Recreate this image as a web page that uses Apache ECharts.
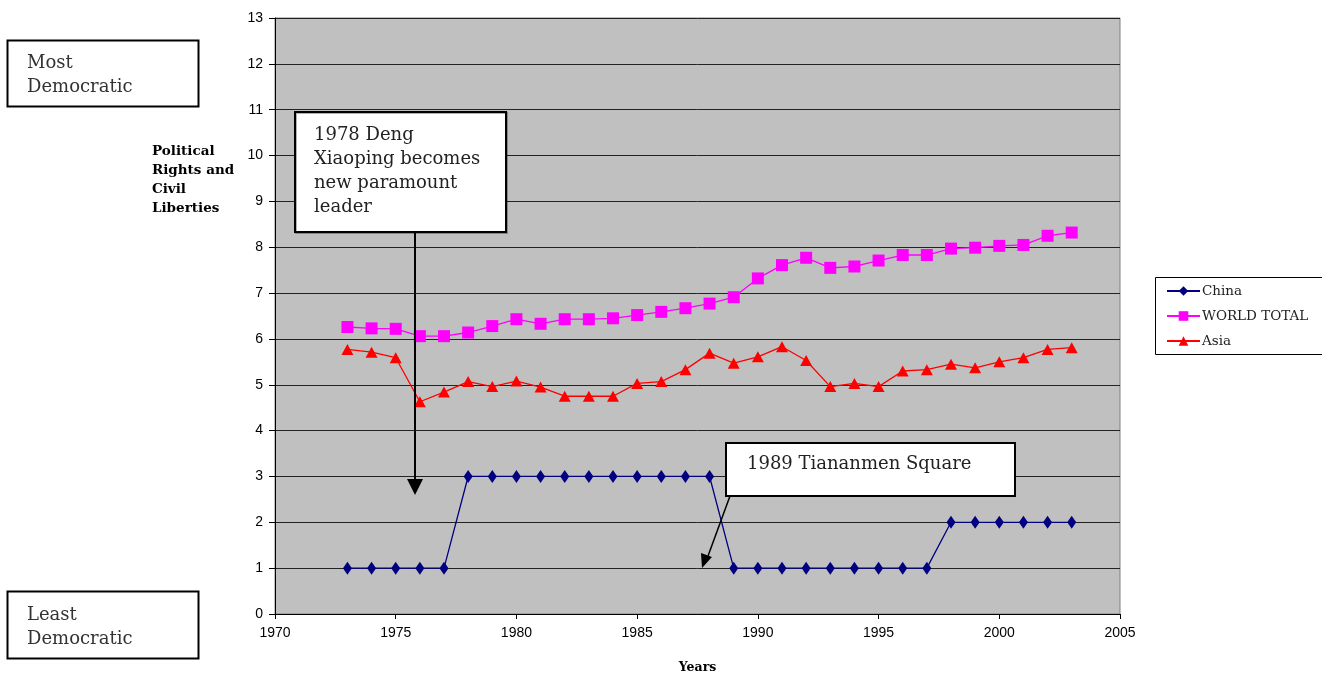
<!DOCTYPE html>
<html>
<head>
<meta charset="utf-8">
<script src="https://cdn.jsdelivr.net/npm/echarts@6/dist/echarts.min.js"></script>
<style>
  html, body { margin: 0; padding: 0; background: #fff; }
  #chart { width: 1322px; height: 674px; }
</style>
</head>
<body>
<div id="chart"></div>
<script>
var years = [1973, 1974, 1975, 1976, 1977, 1978, 1979, 1980, 1981, 1982, 1983,
    1984, 1985, 1986, 1987, 1988, 1989, 1990, 1991, 1992, 1993, 1994, 1995,
    1996, 1997, 1998, 1999, 2000, 2001, 2002, 2003];

var china = [1, 1, 1, 1, 1, 3, 3, 3, 3, 3, 3, 3, 3, 3, 3, 3, 1, 1, 1, 1, 1,
    1, 1, 1, 1, 2, 2, 2, 2, 2, 2];

var world = [6.26, 6.23, 6.22, 6.06, 6.06, 6.14, 6.28, 6.43, 6.33, 6.43, 6.43,
    6.45, 6.52, 6.59, 6.67, 6.77, 6.91, 7.32, 7.61, 7.77, 7.55, 7.58, 7.71,
    7.83, 7.83, 7.97, 7.99, 8.03, 8.05, 8.25, 8.32];

var asia = [5.77, 5.71, 5.59, 4.63, 4.84, 5.07, 4.96, 5.08, 4.95, 4.75, 4.75,
    4.75, 5.03, 5.07, 5.33, 5.69, 5.47, 5.61, 5.83, 5.53, 4.96, 5.03, 4.96,
    5.30, 5.33, 5.45, 5.37, 5.50, 5.59, 5.77, 5.81];

function pairs(vals) {
    return years.map(function (y, i) { return [y, vals[i]]; });
}

var serif = 'DejaVu Serif';
var sans = 'Liberation Sans';

var chart = echarts.init(document.getElementById('chart'));

var option = {
    animation: false,
    backgroundColor: '#ffffff',
    grid: {
        left: 275, right: 202, top: 18, bottom: 60,
        outerBoundsMode: 'none',
        containLabel: false,
        show: true,
        backgroundColor: '#c0c0c0',
        borderColor: '#808080',
        borderWidth: 1
    },
    legend: {
        orient: 'vertical',
        left: 1161, top: 279,
        itemWidth: 33, itemHeight: 12, itemGap: 11,
        textStyle: { fontFamily: serif, fontSize: 13.5, color: '#222', padding: [0, 0, 0, -3] },
        data: ['China', 'WORLD TOTAL', 'Asia']
    },
    xAxis: {
        type: 'value',
        min: 1970, max: 2005, interval: 5,
        name: 'Years',
        nameLocation: 'middle',
        nameGap: 47,
        nameTextStyle: { fontFamily: serif, fontWeight: 'bold', fontSize: 12.5, color: '#000' },
        axisLine: { show: true, lineStyle: { color: '#000', width: 1 } },
        axisTick: { show: true, length: 5, lineStyle: { color: '#000' } },
        axisLabel: { fontFamily: sans, fontSize: 14, color: '#000', margin: 12,
            formatter: function (v) { return String(v); } },
        splitLine: { show: false }
    },
    yAxis: {
        type: 'value',
        min: 0, max: 13, interval: 1,
        axisLine: { show: true, lineStyle: { color: '#000', width: 1 } },
        axisTick: { show: true, length: 6, lineStyle: { color: '#000' } },
        axisLabel: { fontFamily: sans, fontSize: 14, color: '#000', margin: 12 },
        splitLine: { show: true, lineStyle: { color: '#222', width: 1 } }
    },
    series: [
        {
            name: 'China',
            type: 'line',
            data: pairs(china),
            symbol: 'diamond',
            symbolSize: [9, 13],
            color: '#000080',
            lineStyle: { width: 1.3, color: '#000080' },
            itemStyle: { color: '#000080' }
        },
        {
            name: 'WORLD TOTAL',
            type: 'line',
            data: pairs(world),
            symbol: 'rect',
            symbolSize: 12,
            color: '#ff00ff',
            lineStyle: { width: 1.3, color: '#ff00ff' },
            itemStyle: { color: '#ff00ff' }
        },
        {
            name: 'Asia',
            type: 'line',
            data: pairs(asia),
            symbol: 'triangle',
            symbolSize: [12, 11],
            color: '#ff0000',
            lineStyle: { width: 1.3, color: '#ff0000' },
            itemStyle: { color: '#ff0000' }
        }
    ],
    graphic: [
        // legend frame
        { type: 'rect', shape: { x: 1155.5, y: 277.5, width: 170, height: 77 },
          style: { fill: 'none', stroke: '#000', lineWidth: 1 }, z: 0 },
        // y axis title
        { type: 'text', left: 152, top: 142,
          style: { text: 'Political\nRights and\nCivil\nLiberties', font: 'bold 13.5px "DejaVu Serif"',
                   lineHeight: 19, fill: '#000' } },
        // Most / Least democratic boxes
        { type: 'rect', shape: { x: 7.5, y: 40.5, width: 191, height: 66 },
          style: { fill: '#fff', stroke: '#000', lineWidth: 2 } },
        { type: 'text', left: 27, top: 51,
          style: { text: 'Most\nDemocratic', font: '18px "DejaVu Serif"', lineHeight: 24, fill: '#333' } },
        { type: 'rect', shape: { x: 7.5, y: 591.5, width: 191, height: 67 },
          style: { fill: '#fff', stroke: '#000', lineWidth: 2 } },
        { type: 'text', left: 27, top: 603,
          style: { text: 'Least\nDemocratic', font: '18px "DejaVu Serif"', lineHeight: 24, fill: '#333' } },
        // 1978 annotation
        { type: 'line', shape: { x1: 415, y1: 232, x2: 415, y2: 482 },
          style: { stroke: '#000', lineWidth: 2 }, z: 10 },
        { type: 'polygon', shape: { points: [[407, 479], [423, 479], [415, 495]] },
          style: { fill: '#000' }, z: 10 },
        { type: 'rect', shape: { x: 295, y: 112, width: 211, height: 120 },
          style: { fill: '#fff', stroke: '#000', lineWidth: 2, shadowColor: 'rgba(0,0,0,0.3)', shadowOffsetX: 1, shadowOffsetY: 1 }, z: 10 },
        { type: 'text', left: 314, top: 123, z: 11,
          style: { text: '1978 Deng\nXiaoping becomes\nnew paramount\nleader', font: '18px "DejaVu Serif"',
                   lineHeight: 24, fill: '#222' } },
        // 1989 annotation
        { type: 'line', shape: { x1: 730, y1: 496, x2: 708, y2: 556 },
          style: { stroke: '#000', lineWidth: 1.5 }, z: 10 },
        { type: 'polygon', shape: { points: [[701, 553], [712, 557], [702, 568]] },
          style: { fill: '#000' }, z: 10 },
        { type: 'rect', shape: { x: 726, y: 443, width: 289, height: 53 },
          style: { fill: '#fff', stroke: '#000', lineWidth: 2 }, z: 10 },
        { type: 'text', left: 747, top: 455, z: 11,
          style: { text: '1989 Tiananmen Square', font: '18px "DejaVu Serif"', fill: '#222' } }
    ]
};

chart.setOption(option);
</script>
</body>
</html>
